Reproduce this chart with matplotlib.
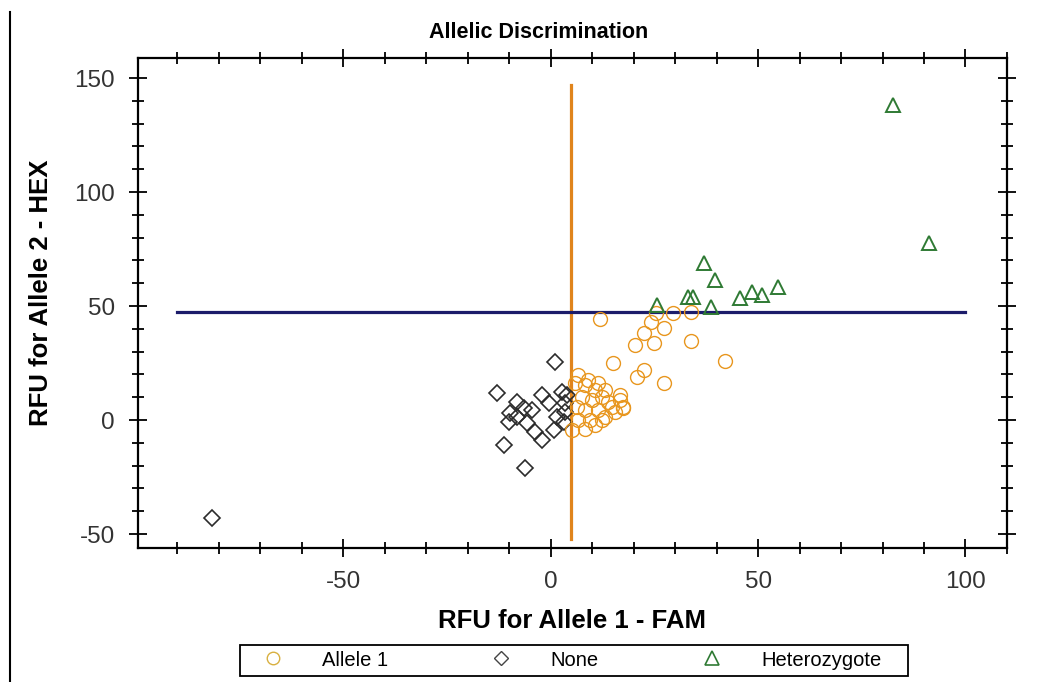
import matplotlib
matplotlib.use("Agg")
import matplotlib.pyplot as plt
from matplotlib.lines import Line2D
from matplotlib.patches import Rectangle
from matplotlib.ticker import MultipleLocator

# RFU readings per well (FAM on x, HEX on y)
allele1_fam = [12.0, 25.5, 29.6, 33.9, 24.3, 27.2, 22.4, 20.4, 24.8, 33.9,
               15.1, 42.0, 22.4, 20.7, 27.2, 16.8, 17.5, 6.7,
               5.9, 8.3, 10.7, 7.5, 9.9, 12.3, 13.9, 6.3, 8.3, 11.5,
               14.7, 16.8, 17.5, 6.7, 9.5, 12.3, 5.1, 8.3, 10.7, 13.1,
               15.6, 9.1, 11.5, 13.1]
allele1_hex = [44.3, 47.0, 47.0, 47.4, 43.0, 40.4, 38.0, 32.9, 33.8, 34.6,
               25.0, 25.9, 21.9, 18.9, 16.2, 11.0, 5.7, 19.7,
               16.1, 15.4, 13.2, 10.2, 8.8, 10.2, 8.0, 5.8, 4.4, 4.4,
               5.8, 8.8, 5.1, 0.0, 0.0, 0.0, -4.4, -3.7, -2.2, 1.5,
               3.7, 17.5, 16.1, 13.2]

none_fam = [-12.9, -8.1, -2.1, 2.7, 3.9, -0.5, -4.5, -6.5, -9.7, -8.1,
            -10.1, -5.7, 1.5, 3.5, 3.1, 0.7, -3.7, -2.1, -11.3, -6.1,
            3.5, 1.1, -81.6]
none_hex = [11.7, 8.0, 11.0, 12.4, 11.0, 7.3, 4.4, 5.1, 2.9, 1.5,
            -0.7, -1.5, 1.5, 3.7, -0.7, -4.4, -5.1, -8.8, -11.0, -21.2,
            7.3, 25.6, -43.1]

het_fam = [82.5, 91.3, 37.0, 39.6, 54.8, 48.6, 51.0, 45.6, 33.0, 34.4,
           25.7, 38.7]
het_hex = [138.0, 77.6, 69.0, 61.4, 58.3, 56.0, 55.0, 53.5, 54.0, 54.0,
           50.4, 49.5]

# call thresholds
fam_threshold = 4.8
fam_span = [-52, 147]
hex_threshold = 47.5
hex_span = [-90, 100]

plt.rcParams['font.family'] = ['Liberation Sans', 'DejaVu Sans']
plt.rcParams['axes.unicode_minus'] = False

fig = plt.figure(figsize=(10.45, 6.82), dpi=100)
ax = fig.add_axes([0.132, 0.1965, 0.8316, 0.7185])

ax.plot([fam_threshold, fam_threshold], fam_span, color='#E0841C', lw=2.3, zorder=2)
ax.plot(hex_span, [hex_threshold, hex_threshold], color='#1C1C6A', lw=2.3, zorder=2)

orange = '#E8961E'
dark = '#2B2B2B'
green = '#2F7A34'
ax.plot(none_fam, none_hex, ls='none', marker='D', ms=8.2, mfc='none',
        mec=dark, mew=1.2, zorder=3)
ax.plot(allele1_fam, allele1_hex, ls='none', marker='o', ms=10, mfc='none',
        mec=orange, mew=1.0, zorder=3)
ax.plot(het_fam, het_hex, ls='none', marker='^', ms=10, mfc='none',
        mec=green, mew=1.4, zorder=4)

ax.set_xlim(-99.5, 110)
ax.set_ylim(-56.1, 158.8)
ax.xaxis.set_major_locator(MultipleLocator(50))
ax.xaxis.set_minor_locator(MultipleLocator(10))
ax.yaxis.set_major_locator(MultipleLocator(50))
ax.yaxis.set_minor_locator(MultipleLocator(10))
ax.tick_params(which='both', direction='inout', top=True, right=True,
               width=1.3, color='black', labelsize=17.5, labelcolor='#333333')
ax.tick_params(which='major', length=13, pad=10)
ax.tick_params(which='minor', length=9)
for s in ax.spines.values():
    s.set_linewidth(1.6)

ax.set_xlabel('RFU for Allele 1 - FAM', fontsize=18.5, fontweight='bold')
ax.set_ylabel('RFU for Allele 2 - HEX', fontsize=18.5, fontweight='bold')
ax.xaxis.set_label_coords(0.5, -0.124)
ax.yaxis.set_label_coords(-0.098, 0.52)

fig.text(0.515, 1 - 33 / 682, 'Allelic Discrimination', ha='center', va='center',
         fontsize=15.5, fontweight='bold')

# left edge rule of the panel
fig.add_artist(Line2D([10 / 1045, 10 / 1045], [0, 1 - 12 / 682], color='black', lw=1.5))

# legend strip under the plot
fig.add_artist(Rectangle((240 / 1045, 6 / 682), 668 / 1045, 31 / 682,
                         transform=fig.transFigure, fill=False,
                         edgecolor='black', lw=1.3))
handles = [
    Line2D([], [], ls='none', marker='o', ms=9, mfc='none', mec='#D8B040', mew=1.0),
    Line2D([], [], ls='none', marker='D', ms=7, mfc='none', mec='#444444', mew=1.0),
    Line2D([], [], ls='none', marker='^', ms=10, mfc='none', mec=green, mew=1.2),
]
fig.legend(handles, ['Allele 1', 'None', 'Heterozygote'], ncol=3,
           loc='center left', bbox_to_anchor=(258 / 1045, 22 / 682),
           fontsize=14.5, frameon=False, borderpad=0, borderaxespad=0,
           handletextpad=1.7, handlelength=1.5, columnspacing=4.85)

fig.savefig('out.png', dpi=100)
